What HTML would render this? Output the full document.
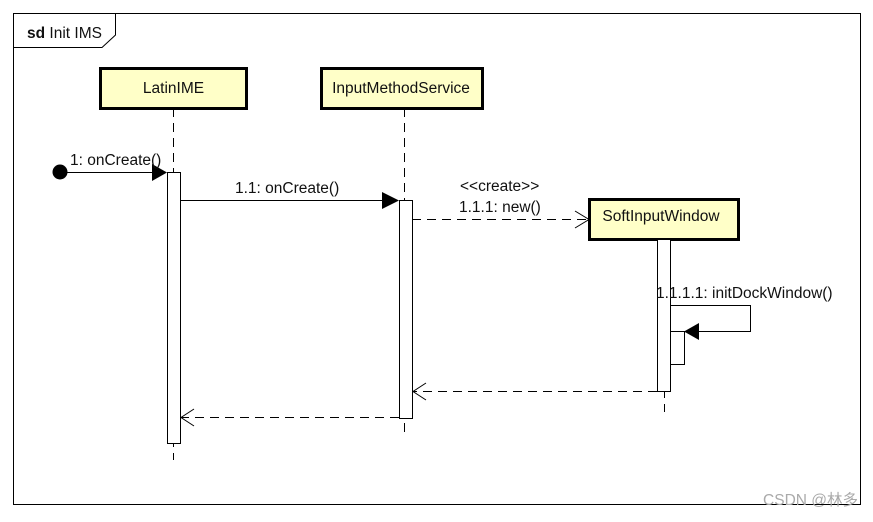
<!DOCTYPE html>
<html><head><style>body{margin:0;background:#fff}svg text{font-family:"Liberation Sans","Noto Sans CJK SC",sans-serif;font-size:15.5px;fill:#111}</style></head>
<body>
<svg width="873" height="517" viewBox="0 0 873 517" xmlns="http://www.w3.org/2000/svg">
<rect x="0" y="0" width="873" height="517" fill="#fff"/>
<rect x="13.5" y="13.5" width="847" height="491" fill="none" stroke="#000"/>
<path d="M13.5 47.5 H102 L115.5 35 V13.5" fill="none" stroke="#000"/>
<text x="27" y="38" font-size="15"><tspan font-weight="bold">sd</tspan> Init IMS</text>
<g stroke="#000" stroke-dasharray="9,6" fill="none">
<line x1="173.5" y1="108" x2="173.5" y2="460"/>
<line x1="404.5" y1="108" x2="404.5" y2="436"/>
<line x1="664.5" y1="239" x2="664.5" y2="412"/>
</g>
<g stroke="#000" stroke-width="3" fill="#ffffc8">
<rect x="100.5" y="68.5" width="146" height="40"/>
<rect x="321.5" y="68.5" width="161" height="40"/>
<rect x="589.5" y="199.5" width="149" height="40"/>
</g>
<text x="173.5" y="93" text-anchor="middle">LatinIME</text>
<text x="401" y="93" text-anchor="middle">InputMethodService</text>
<text x="661" y="221" text-anchor="middle">SoftInputWindow</text>
<g stroke="#000" fill="#fff">
<rect x="167.5" y="172.5" width="13" height="271"/>
<rect x="399.5" y="200.5" width="13" height="218"/>
<rect x="657.5" y="239.5" width="13" height="152"/>
<rect x="670.5" y="331.5" width="14" height="33"/>
</g>
<circle cx="60" cy="172" r="7.5" fill="#000"/>
<line x1="60" y1="172.5" x2="155" y2="172.5" stroke="#000"/>
<polygon points="152,164 167,172.5 152,181" fill="#000"/>
<text x="70" y="165">1: onCreate()</text>
<line x1="180" y1="200.5" x2="385" y2="200.5" stroke="#000"/>
<polygon points="382,192 399,200.5 382,209" fill="#000"/>
<text x="235" y="193">1.1: onCreate()</text>
<line x1="412" y1="219.5" x2="588" y2="219.5" stroke="#000" stroke-dasharray="9,6"/>
<path d="M575 211 L589 219.5 L575 228" fill="none" stroke="#000"/>
<text x="460" y="191" font-size="14">&lt;&lt;create&gt;&gt;</text>
<text x="459" y="212">1.1.1: new()</text>
<path d="M670 305.5 H750.5 V331.5 H698" fill="none" stroke="#000"/>
<polygon points="699,323 684,331.5 699,340" fill="#000"/>
<text x="656" y="298">1.1.1.1: initDockWindow()</text>
<line x1="657" y1="391.5" x2="413" y2="391.5" stroke="#000" stroke-dasharray="9,6"/>
<path d="M426 383 L413 391.5 L426 400" fill="none" stroke="#000"/>
<line x1="399" y1="417.5" x2="181" y2="417.5" stroke="#000" stroke-dasharray="9,6"/>
<path d="M194 409 L181 417.5 L194 426" fill="none" stroke="#000"/>
<text x="858" y="505" font-size="10" text-anchor="end" style="fill:#aaa">CSDN @林多</text>
</svg>
</body></html>
